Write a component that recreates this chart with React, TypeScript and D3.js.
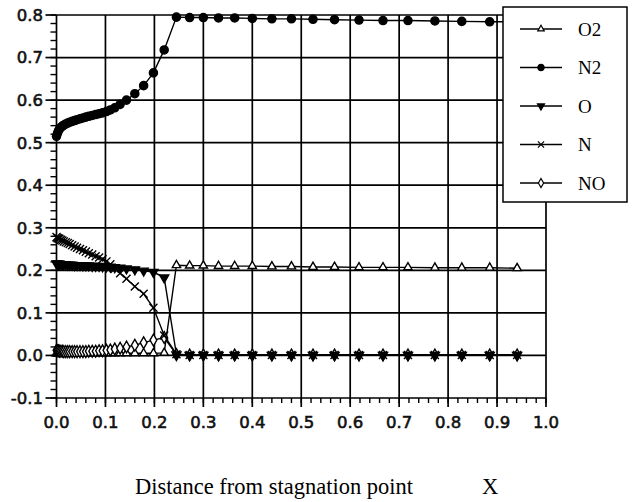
import React from "react";
import * as d3 from "d3";

// grid points along the body (distance from stagnation point)
const xs = [0, 0.002, 0.004, 0.006, 0.009, 0.012, 0.015, 0.019, 0.023, 0.027, 0.032, 0.037, 0.042, 0.048, 0.054, 0.06, 0.066, 0.073, 0.08, 0.087, 0.094, 0.102, 0.11, 0.119, 0.13, 0.143, 0.16, 0.178, 0.198, 0.22, 0.245, 0.272, 0.3, 0.331, 0.364, 0.4, 0.44, 0.48, 0.524, 0.568, 0.618, 0.667, 0.718, 0.773, 0.828, 0.885, 0.941];

const o2 = [0.005, 0.005, 0.005, 0.005, 0.005, 0.005, 0.005, 0.005, 0.005, 0.005, 0.005, 0.005, 0.005, 0.005, 0.005, 0.005, 0.005, 0.005, 0.005, 0.005, 0.005, 0.005, 0.005, 0.005, 0.005, 0.005, 0.005, 0.005, 0.005, 0.006, 0.212, 0.211, 0.211, 0.21, 0.21, 0.21, 0.209, 0.209, 0.208, 0.208, 0.207, 0.207, 0.207, 0.206, 0.206, 0.206, 0.205];
const n2 = [0.515, 0.522, 0.528, 0.532, 0.536, 0.539, 0.541, 0.544, 0.546, 0.548, 0.55, 0.552, 0.554, 0.556, 0.558, 0.56, 0.562, 0.564, 0.566, 0.568, 0.57, 0.573, 0.577, 0.582, 0.59, 0.6, 0.615, 0.634, 0.664, 0.718, 0.795, 0.794, 0.794, 0.793, 0.793, 0.792, 0.791, 0.791, 0.79, 0.789, 0.788, 0.787, 0.787, 0.786, 0.785, 0.784, 0.784];
const oAtom = [0.216, 0.215, 0.215, 0.215, 0.214, 0.214, 0.214, 0.214, 0.213, 0.213, 0.213, 0.212, 0.212, 0.212, 0.211, 0.211, 0.211, 0.21, 0.21, 0.21, 0.209, 0.209, 0.208, 0.207, 0.206, 0.204, 0.202, 0.199, 0.196, 0.183, 0.002, 0.001, 0.001, 0.001, 0.001, 0.001, 0.001, 0.001, 0.001, 0.001, 0.001, 0.001, 0.001, 0.001, 0.001, 0.001, 0.001];
const nAtom = [0.278, 0.276, 0.275, 0.274, 0.272, 0.27, 0.268, 0.266, 0.264, 0.262, 0.259, 0.256, 0.253, 0.25, 0.247, 0.244, 0.24, 0.237, 0.233, 0.23, 0.226, 0.221, 0.214, 0.204, 0.193, 0.18, 0.162, 0.145, 0.112, 0.047, 0.003, 0.001, 0.001, 0.001, 0.001, 0.001, 0.001, 0.001, 0.001, 0.001, 0.001, 0.001, 0.001, 0.001, 0.001, 0.001, 0.001];
const no = [0.012, 0.011, 0.011, 0.01, 0.01, 0.01, 0.009, 0.009, 0.009, 0.009, 0.009, 0.009, 0.009, 0.009, 0.009, 0.009, 0.01, 0.01, 0.01, 0.011, 0.011, 0.012, 0.013, 0.015, 0.017, 0.02, 0.024, 0.03, 0.036, 0.042, 0.002, 0.001, 0.001, 0.001, 0.001, 0.001, 0.001, 0.001, 0.001, 0.001, 0.001, 0.001, 0.001, 0.001, 0.001, 0.001, 0.001];

const speciesNames = ["O2", "N2", "O", "N", "NO"];
const xTicks = [0, 0.1, 0.2, 0.3, 0.4, 0.5, 0.6, 0.7, 0.8, 0.9, 1.0];
const yTicks = [-0.1, 0, 0.1, 0.2, 0.3, 0.4, 0.5, 0.6, 0.7, 0.8];

const x = d3.scaleLinear().domain([0, 1]).range([56.5, 546]);
const y = d3.scaleLinear().domain([-0.1, 0.8]).range([398, 15]);

const series = [
  { name: speciesNames[0], values: o2, symbol: d3.symbolTriangle, size: 30, fill: "#fff", rotate: 0 },
  { name: speciesNames[1], values: n2, symbol: d3.symbolCircle, size: 52, fill: "#000", rotate: 0 },
  { name: speciesNames[4], values: no, symbol: d3.symbolDiamond, size: 40, fill: "#fff", rotate: 0 },
  { name: speciesNames[2], values: oAtom, symbol: d3.symbolTriangle, size: 36, fill: "#000", rotate: 180 },
  { name: speciesNames[3], values: nAtom, symbol: d3.symbolTimes, size: 44, fill: "none", rotate: 0 },
];
const legendOrder = [0, 1, 3, 4, 2];

const line = d3.line<[number, number]>().x(d => x(d[0])).y(d => y(d[1]));

export default function App() {
  const minorX = d3.range(0, 1.0001, 0.02);
  const minorY = d3.range(-0.1, 0.8001, 0.02);
  const tickFont = "DejaVu Sans, sans-serif";
  const serif = "Liberation Serif, Times New Roman, serif";
  return (
    <svg width={634} height={502} style={{ position: "absolute", left: 0, top: 0, background: "#fff" }}>
      {/* grid */}
      {xTicks.map(t => (
        <line key={"gx" + t} x1={x(t)} x2={x(t)} y1={y(0.8)} y2={y(-0.1)} stroke="#000" strokeWidth={1.7} />
      ))}
      {yTicks.map(t => (
        <line key={"gy" + t} x1={x(0)} x2={x(1)} y1={y(t)} y2={y(t)} stroke="#000" strokeWidth={1.7} />
      ))}
      {/* minor ticks */}
      {minorX.map((t, i) => (
        <line key={"mx" + i} x1={x(t)} x2={x(t)} y1={y(-0.1)} y2={y(-0.1) + 5} stroke="#000" strokeWidth={1.4} />
      ))}
      {minorY.map((t, i) => (
        <line key={"my" + i} x1={x(0) - 6} x2={x(0)} y1={y(t)} y2={y(t)} stroke="#000" strokeWidth={1.4} />
      ))}
      {xTicks.map(t => (
        <g key={"tx" + t}>
          <line x1={x(t)} x2={x(t)} y1={y(-0.1)} y2={y(-0.1) + 9} stroke="#000" strokeWidth={1.7} />
          <text x={x(t)} y={428} textAnchor="middle" fontFamily={tickFont} fontSize={16.5} fill="#111" stroke="#111" strokeWidth={0.6}>
            {t.toFixed(1)}
          </text>
        </g>
      ))}
      {yTicks.map(t => (
        <g key={"ty" + t}>
          <line x1={x(0) - 11} x2={x(0)} y1={y(t)} y2={y(t)} stroke="#000" strokeWidth={1.7} />
          <text x={43} y={y(t)} dy="0.36em" textAnchor="end" fontFamily={tickFont} fontSize={16.5} fill="#111" stroke="#111" strokeWidth={0.6}>
            {t.toFixed(1)}
          </text>
        </g>
      ))}
      {/* series */}
      {series.map(s => {
        const pts = xs.map((xv, i) => [xv, s.values[i]] as [number, number]);
        const sym = d3.symbol().type(s.symbol).size(s.size)();
        return (
          <g key={s.name}>
            <path d={line(pts) || ""} fill="none" stroke="#000" strokeWidth={1.4} />
            {pts.map((p, i) => (
              <path
                key={i}
                d={sym || ""}
                transform={`translate(${x(p[0])},${y(p[1])}) rotate(${s.rotate})`}
                fill={s.fill}
                stroke="#000"
                strokeWidth={1.4}
              />
            ))}
          </g>
        );
      })}
      {/* legend */}
      <rect x={503} y={7} width={124} height={195} fill="#fff" stroke="#000" strokeWidth={1.5} />
      {legendOrder.map((si, i) => {
        const s = series[si];
        const ly = 29 + i * 38.5;
        const sym = d3.symbol().type(s.symbol).size(s.size * 0.6)();
        return (
          <g key={"leg" + s.name}>
            <line x1={520} x2={562} y1={ly} y2={ly} stroke="#000" strokeWidth={1.4} />
            <path d={sym || ""} transform={`translate(541,${ly}) rotate(${s.rotate})`} fill={s.fill} stroke="#000" strokeWidth={1.2} />
            <text x={578} y={ly} dy="0.35em" fontFamily={serif} fontSize={19} fill="#000">
              {s.name}
            </text>
          </g>
        );
      })}
      {/* axis title */}
      <text x={135} y={494} fontFamily={serif} fontSize={22.5} fill="#000">
        Distance from stagnation point
      </text>
      <text x={482} y={494} fontFamily={serif} fontSize={22.5} fill="#000">
        X
      </text>
    </svg>
  );
}
